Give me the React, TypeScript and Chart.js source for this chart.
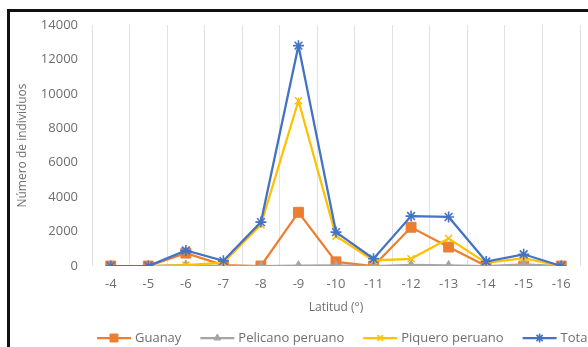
import React, { useEffect, useRef } from "react";
import { Chart, registerables } from "chart.js";
import { drawPoint } from "chart.js/helpers";

Chart.register(...registerables);

const categories = ["-4", "-5", "-6", "-7", "-8", "-9", "-10", "-11", "-12", "-13", "-14", "-15", "-16"];
const guanay = [0, 0, 750, 50, 0, 3120, 240, 0, 2250, 1100, 0, 0, 0];
const pelicano = [0, 0, 60, 0, 0, 20, 30, 0, 60, 30, 0, 100, 0];
const piquero = [0, 0, 50, 200, 2400, 9600, 1740, 320, 420, 1600, 180, 450, 0];
const total = [0, 0, 900, 300, 2550, 12800, 1970, 420, 2900, 2850, 260, 680, 0];
const yTicks = [0, 2000, 4000, 6000, 8000, 10000, 12000, 14000];
const seriesNames = ["Guanay", "Pelicano peruano", "Piquero peruano", "Total"];
const seriesColors = ["#ED7D31", "#A5A5A5", "#FFC000", "#4472C4"];
const seriesMarkers = ["rect", "triangle", "crossRot", "star"];
const markerSizes = [7, 5, 5, 5.5];

const FONT = "'Open Sans', 'DejaVu Sans', sans-serif";
const TEXT = "#6e6e6e";

const lineLegend = {
  id: "lineLegend",
  afterDraw(chart: any) {
    const ctx = chart.ctx;
    ctx.save();
    ctx.font = `13px ${FONT}`;
    ctx.textBaseline = "middle";
    let x = 97;
    const y = 338;
    chart.data.datasets.forEach((ds: any) => {
      ctx.strokeStyle = ds.borderColor;
      ctx.lineWidth = 2.25;
      ctx.beginPath();
      ctx.moveTo(x, y);
      ctx.lineTo(x + 34, y);
      ctx.stroke();
      ctx.fillStyle = ds.pointBackgroundColor;
      ctx.strokeStyle = ds.borderColor;
      ctx.lineWidth = ds.pointBorderWidth;
      drawPoint(ctx, { pointStyle: ds.pointStyle, radius: ds.pointRadius * 0.8, rotation: 0, borderWidth: ds.pointBorderWidth }, x + 17, y);
      ctx.fillStyle = TEXT;
      ctx.fillText(ds.label, x + 38, y);
      x += 38 + ctx.measureText(ds.label).width + 19;
    });
    ctx.restore();
  },
};

export default function App() {
  const ref = useRef<HTMLCanvasElement>(null);

  useEffect(() => {
    document.body.style.overflow = "hidden";
    const seriesData = [guanay, pelicano, piquero, total];
    const chart = new Chart(ref.current!, {
      type: "line",
      data: {
        labels: categories,
        datasets: seriesNames.map((name, i) => ({
          label: name,
          data: seriesData[i],
          borderColor: seriesColors[i],
          backgroundColor: seriesColors[i],
          pointBackgroundColor: seriesColors[i],
          pointBorderColor: seriesColors[i],
          pointStyle: seriesMarkers[i] as any,
          pointRadius: markerSizes[i],
          pointBorderWidth: i === 2 || i === 3 ? 1.6 : 1,
          borderWidth: 2.25,
          tension: 0,
          order: 4 - i,
        })),
      },
      options: {
        responsive: false,
        animation: false,
        devicePixelRatio: 1,
        layout: { padding: { left: 10, right: 2, top: 25, bottom: 28 } },
        plugins: { legend: { display: false }, tooltip: { enabled: false } },
        scales: {
          x: {
            offset: true,
            grid: { offset: true, drawTicks: false, color: "#e2e2e2", lineWidth: 1 },
            border: { display: false },
            ticks: { color: TEXT, font: { family: FONT, size: 13 }, padding: 10, maxRotation: 0, autoSkip: false },
            title: {
              display: true,
              text: "Latitud (°)",
              color: TEXT,
              font: { family: FONT, size: 12 },
              padding: { top: 4, bottom: 4 },
            },
            afterFit: (s: any) => {
              s.height = 53;
            },
          },
          y: {
            min: 0,
            max: 14000,
            grid: { display: false, drawTicks: false },
            border: { display: false },
            afterBuildTicks: (s: any) => {
              s.ticks = yTicks.map((v) => ({ value: v }));
            },
            ticks: {
              color: TEXT,
              font: { family: FONT, size: 13 },
              padding: 14,
              callback: (v: any) => String(v),
            },
            title: {
              display: true,
              text: "Número de individuos",
              color: TEXT,
              font: { family: FONT, size: 12 },
              padding: { top: 5, bottom: 0 },
            },
            afterFit: (s: any) => {
              s.width = 82;
            },
          },
        },
      },
      plugins: [lineLegend],
    });
    return () => chart.destroy();
  }, []);

  return (
    <div style={{ position: "fixed", left: 0, top: 0, width: 588, height: 347, background: "#fff", overflow: "hidden" }}>
      <canvas ref={ref} width={588} height={347} style={{ position: "absolute", left: 0, top: 0 }} />
      <div
        style={{
          position: "absolute",
          left: 7,
          top: 9,
          width: 600,
          height: 400,
          borderTop: "3px solid #111",
          borderLeft: "3px solid #111",
          pointerEvents: "none",
        }}
      />
    </div>
  );
}
